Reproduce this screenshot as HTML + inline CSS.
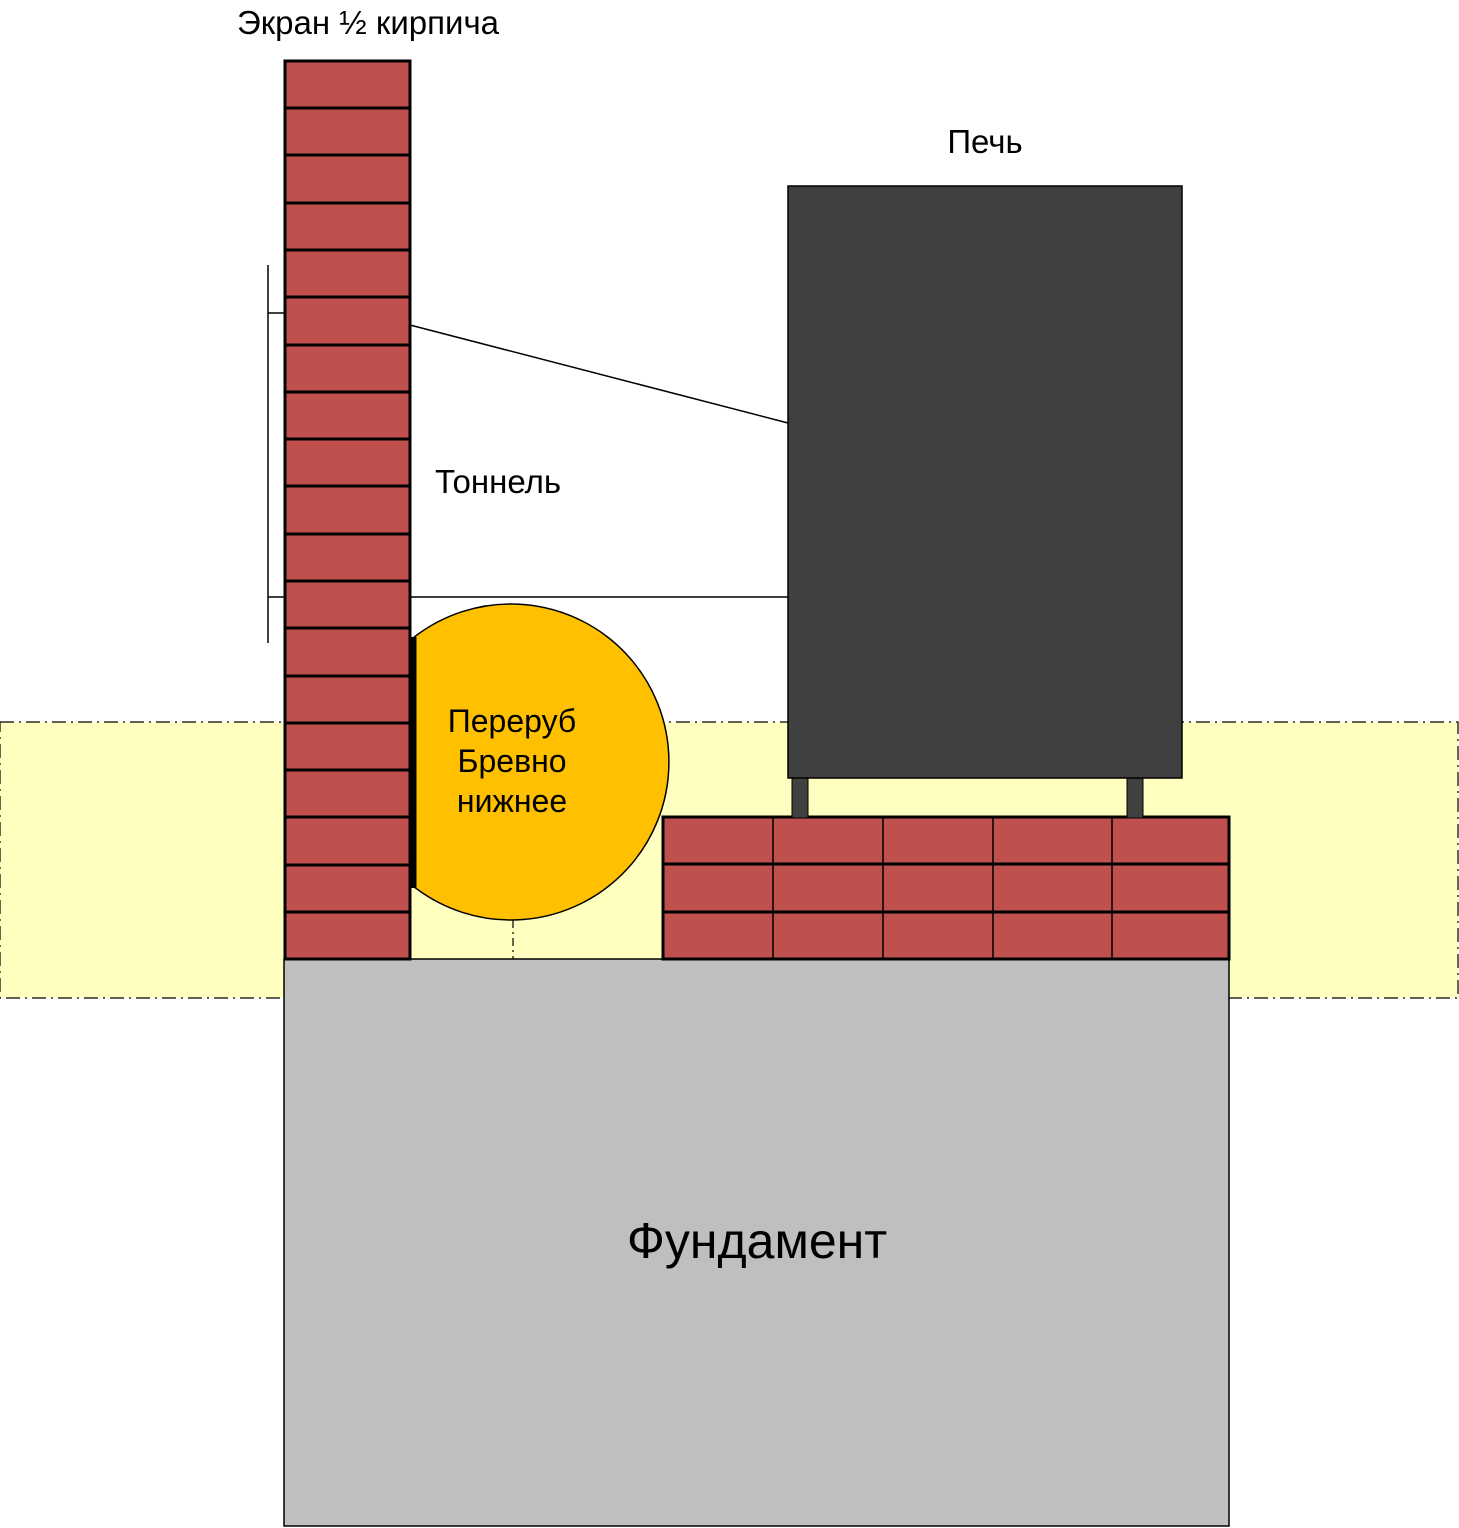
<!DOCTYPE html>
<html><head><meta charset="utf-8"><style>body{margin:0;background:#fff}svg{display:block}</style></head>
<body>
<svg width="1459" height="1528" viewBox="0 0 1459 1528" xmlns="http://www.w3.org/2000/svg" font-family="Liberation Sans, sans-serif">
<rect x="0" y="722" width="1458" height="276" fill="#ffffc0" stroke="#000" stroke-width="1.2" stroke-dasharray="14,5,2,5"/>
<rect x="284" y="959" width="945" height="567" fill="#bfbfbf" stroke="#000" stroke-width="1.5"/>
<text x="757" y="1258" font-size="50" text-anchor="middle">Фундамент</text>
<g fill="#c0504d" stroke="#000" stroke-width="3">
<rect x="285" y="61" width="125" height="898"/>
<rect x="663" y="817" width="566" height="142"/>
</g>
<g stroke="#000" stroke-width="3">
<line x1="285" x2="410" y1="108" y2="108"/><line x1="285" x2="410" y1="155" y2="155"/>
<line x1="285" x2="410" y1="203" y2="203"/><line x1="285" x2="410" y1="250" y2="250"/>
<line x1="285" x2="410" y1="297" y2="297"/><line x1="285" x2="410" y1="345" y2="345"/>
<line x1="285" x2="410" y1="392" y2="392"/><line x1="285" x2="410" y1="439" y2="439"/>
<line x1="285" x2="410" y1="486" y2="486"/><line x1="285" x2="410" y1="534" y2="534"/>
<line x1="285" x2="410" y1="581" y2="581"/><line x1="285" x2="410" y1="628" y2="628"/>
<line x1="285" x2="410" y1="676" y2="676"/><line x1="285" x2="410" y1="723" y2="723"/>
<line x1="285" x2="410" y1="770" y2="770"/><line x1="285" x2="410" y1="817" y2="817"/>
<line x1="285" x2="410" y1="865" y2="865"/><line x1="285" x2="410" y1="912" y2="912"/>
<line x1="663" x2="1229" y1="864" y2="864"/><line x1="663" x2="1229" y1="912" y2="912"/>
</g>
<g stroke="#000" stroke-width="1.5">
<line x1="773" x2="773" y1="817" y2="959"/><line x1="883" x2="883" y1="817" y2="959"/>
<line x1="993" x2="993" y1="817" y2="959"/><line x1="1112" x2="1112" y1="817" y2="959"/>
</g>
<path d="M413,638 A158,158 0 1 1 413,886 Z" fill="#ffc000" stroke="#000" stroke-width="1.5"/>
<line x1="414" x2="414" y1="637" y2="888" stroke="#000" stroke-width="5"/>
<line x1="513" x2="513" y1="920" y2="959" stroke="#000" stroke-width="1.2" stroke-dasharray="8,4,2,4"/>
<text font-size="32" text-anchor="middle"><tspan x="512" y="732">Переруб</tspan><tspan x="512" y="772">Бревно</tspan><tspan x="512" y="812">нижнее</tspan></text>
<rect x="792" y="776" width="16" height="42" fill="#404040" stroke="#000"/>
<rect x="1127" y="776" width="16" height="42" fill="#404040" stroke="#000"/>
<rect x="788" y="186" width="394" height="592" fill="#404040" stroke="#000" stroke-width="1.5"/>
<g stroke="#000" stroke-width="1.5">
<line x1="410" y1="325" x2="788" y2="423"/><line x1="410" y1="597" x2="788" y2="597"/>
<line x1="268" y1="265" x2="268" y2="643"/><line x1="268" y1="313" x2="285" y2="313"/><line x1="268" y1="597" x2="285" y2="597"/>
</g>
<text x="368" y="34" font-size="33" text-anchor="middle">Экран ½ кирпича</text>
<text x="985" y="153" font-size="33" text-anchor="middle">Печь</text>
<text x="498" y="493" font-size="33" text-anchor="middle">Тоннель</text>
</svg>
</body></html>
